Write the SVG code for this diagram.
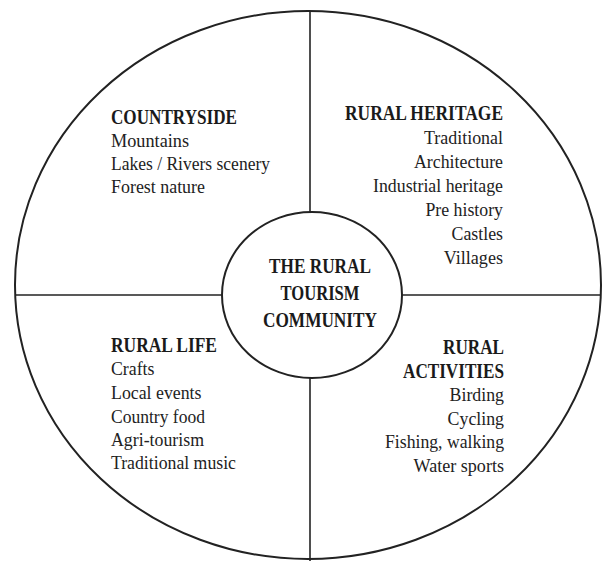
<svg xmlns="http://www.w3.org/2000/svg" width="604" height="561" viewBox="0 0 604 561">
<style>
.t{font-family:"Liberation Serif","Times New Roman",serif;font-size:19px;fill:#222}
.h{font-family:"Liberation Serif","Times New Roman",serif;font-size:20px;font-weight:bold;fill:#1a1a1a}
.r{text-anchor:end}
.c{text-anchor:middle}
.ln{stroke:#222;stroke-width:1.6;fill:none}
</style>
<rect width="604" height="561" fill="#fff"/>
<g id="outer">
<ellipse cx="308" cy="285" rx="293" ry="274" fill="#fff" stroke="#222" stroke-width="2"/>
</g>
<g id="connectors">
<line class="ln" x1="310" y1="11" x2="310" y2="561" stroke="#555"/>
<line class="ln" x1="15" y1="295" x2="601" y2="295"/>
</g>
<g id="center">
<ellipse cx="312" cy="295" rx="90" ry="83" fill="#fff" stroke="#222" stroke-width="2"/>
<text class="h c" x="320" y="273" textLength="102" lengthAdjust="spacingAndGlyphs">THE RURAL</text>
<text class="h c" x="320" y="300" textLength="79" lengthAdjust="spacingAndGlyphs">TOURISM</text>
<text class="h c" x="320" y="327" textLength="114" lengthAdjust="spacingAndGlyphs">COMMUNITY</text>
</g>
<g id="countryside">
<text class="h" x="111" y="124" textLength="126" lengthAdjust="spacingAndGlyphs">COUNTRYSIDE</text>
<text class="t" x="111" y="147" textLength="78" lengthAdjust="spacingAndGlyphs">Mountains</text>
<text class="t" x="111" y="170" textLength="159" lengthAdjust="spacingAndGlyphs">Lakes / Rivers scenery</text>
<text class="t" x="111" y="193" textLength="94" lengthAdjust="spacingAndGlyphs">Forest nature</text>
</g>
<g id="rural-heritage">
<text class="h r" x="503" y="120" textLength="158" lengthAdjust="spacingAndGlyphs">RURAL HERITAGE</text>
<text class="t r" x="503" y="144" textLength="79" lengthAdjust="spacingAndGlyphs">Traditional</text>
<text class="t r" x="503" y="168" textLength="89" lengthAdjust="spacingAndGlyphs">Architecture</text>
<text class="t r" x="503" y="192" textLength="130" lengthAdjust="spacingAndGlyphs">Industrial heritage</text>
<text class="t r" x="503" y="216" textLength="77.6" lengthAdjust="spacingAndGlyphs">Pre history</text>
<text class="t r" x="503" y="240" textLength="51.4" lengthAdjust="spacingAndGlyphs">Castles</text>
<text class="t r" x="503" y="264" textLength="59.3" lengthAdjust="spacingAndGlyphs">Villages</text>
</g>
<g id="rural-life">
<text class="h" x="111" y="352" textLength="106" lengthAdjust="spacingAndGlyphs">RURAL LIFE</text>
<text class="t" x="111" y="375" textLength="43.5" lengthAdjust="spacingAndGlyphs">Crafts</text>
<text class="t" x="111" y="399" textLength="90.5" lengthAdjust="spacingAndGlyphs">Local events</text>
<text class="t" x="111" y="423" textLength="94" lengthAdjust="spacingAndGlyphs">Country food</text>
<text class="t" x="111" y="446" textLength="93" lengthAdjust="spacingAndGlyphs">Agri-tourism</text>
<text class="t" x="111" y="469" textLength="125" lengthAdjust="spacingAndGlyphs">Traditional music</text>
</g>
<g id="rural-activities">
<text class="h r" x="504" y="354" textLength="61" lengthAdjust="spacingAndGlyphs">RURAL</text>
<text class="h r" x="504" y="378" textLength="101" lengthAdjust="spacingAndGlyphs">ACTIVITIES</text>
<text class="t r" x="504" y="401" textLength="54.4" lengthAdjust="spacingAndGlyphs">Birding</text>
<text class="t r" x="504" y="425" textLength="56.4" lengthAdjust="spacingAndGlyphs">Cycling</text>
<text class="t r" x="504" y="448" textLength="119" lengthAdjust="spacingAndGlyphs">Fishing, walking</text>
<text class="t r" x="504" y="472" textLength="90.5" lengthAdjust="spacingAndGlyphs">Water sports</text>
</g>
</svg>
